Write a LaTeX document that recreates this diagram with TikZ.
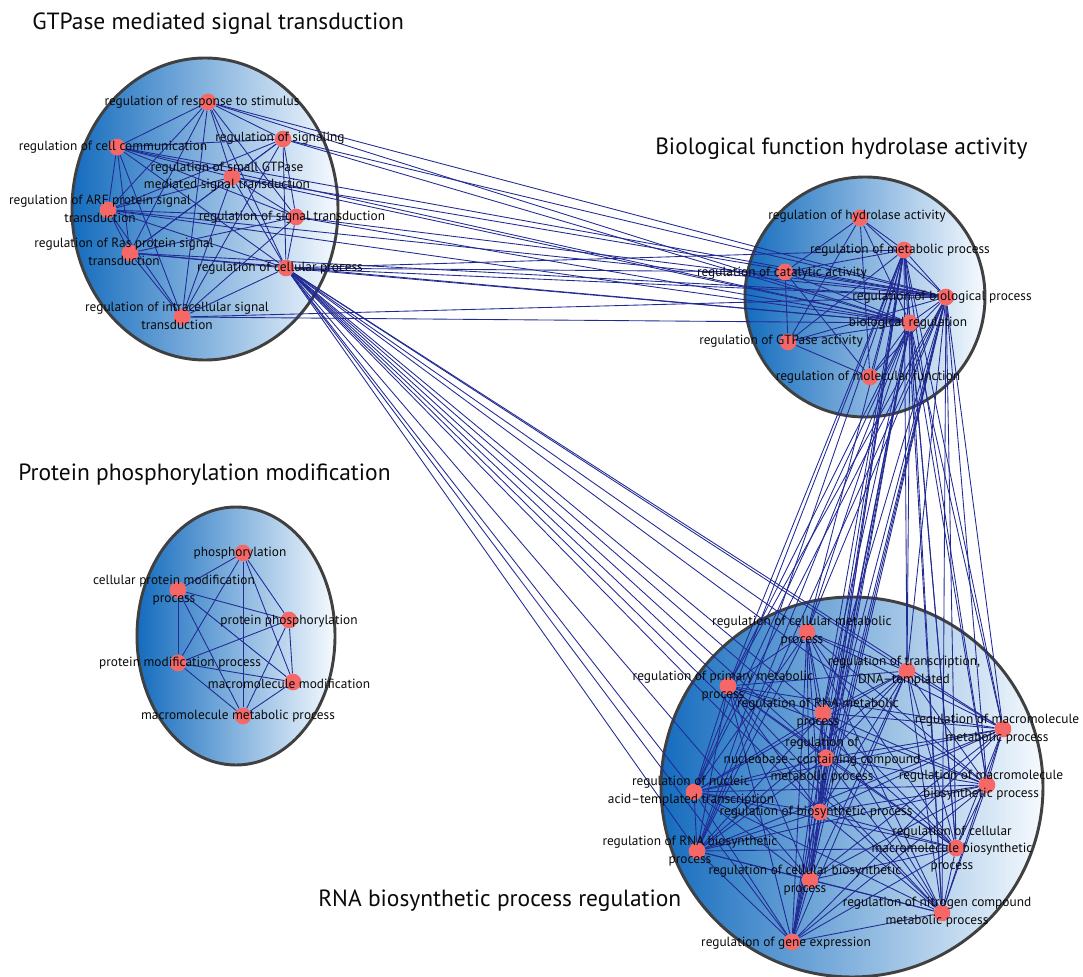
\documentclass[tikz,border=0pt]{standalone}
\usepackage{fontspec}
\setmainfont{PT Sans}
\pgfdeclarelayer{bg}
\pgfdeclarelayer{edges}
\pgfsetlayers{bg,edges,main}
\definecolor{edgeblue}{RGB}{34,42,148}
\definecolor{dotred}{RGB}{246,104,104}
\definecolor{clleft}{RGB}{20,108,190}
\definecolor{clright}{RGB}{246,250,254}
\definecolor{rimgray}{RGB}{64,64,64}
\definecolor{txt}{RGB}{10,10,10}
\begin{document}
\begin{tikzpicture}[x=0.75pt,y=-0.75pt,
  cluster/.style={left color=clleft,right color=clright,draw=rimgray,line width=2.2pt},
  edge/.style={draw=edgeblue,line width=0.65pt},
  dot/.style={circle,fill=dotred,inner sep=0pt,minimum size=12.5pt},
  lbl/.style={font=\fontsize{10}{13}\selectfont,align=center,inner sep=0pt,text=txt},
  ttl/.style={font=\fontsize{17.6}{19}\selectfont,anchor=west,inner sep=0pt,text=txt}]
\useasboundingbox (0,0) rectangle (1083,977);
\def\Glist{gA,gB,gC,gD,gE,gF,gG,gH,gI}
\def\Hlist{hA,hB,hC,hD,hE,hF,hG}
\def\Plist{pA,pB,pC,pD,pE,pF}
\def\Rlist{r1,r2,r3,r4,r5,r6,r7,r8,r9,r10,r11,r12,r13,r14}
% clusters
\begin{pgfonlayer}{bg}
\path[cluster] (205,209) ellipse [x radius=133, y radius=151];
\path[cluster] (865,297) ellipse [x radius=120, y radius=120];
\path[cluster] (236,636) ellipse [x radius=99, y radius=129];
\path[cluster] (852,787) ellipse [x radius=191, y radius=190];
\end{pgfonlayer}
% titles
\node[ttl] (t1) at (32,24) {GTPase mediated signal transduction};
\node[ttl] (t2) at (655,149) {Biological function hydrolase activity};
\node[ttl] (t3) at (18,475) {Protein phosphorylation modification};
\node[ttl] (t4) at (318,901) {RNA biosynthetic process regulation};
% GTPase cluster
\node[dot] (gA) at (208,102) {};
\node[dot] (gB) at (283,139) {};
\node[dot] (gC) at (117,147) {};
\node[dot] (gD) at (232,177) {};
\node[dot] (gE) at (108,210) {};
\node[dot] (gF) at (296,217) {};
\node[dot] (gG) at (130,253) {};
\node[dot] (gH) at (286,268) {};
\node[dot] (gI) at (182,317) {};
% hydrolase cluster
\node[dot] (hA) at (860,218) {};
\node[dot] (hB) at (904,250) {};
\node[dot] (hC) at (785,272) {};
\node[dot] (hD) at (946,297) {};
\node[dot] (hE) at (910,323) {};
\node[dot] (hF) at (788,342) {};
\node[dot] (hG) at (870,377) {};
% protein cluster
\node[dot] (pA) at (243,553) {};
\node[dot] (pB) at (178,590) {};
\node[dot] (pC) at (289,620) {};
\node[dot] (pD) at (178,663) {};
\node[dot] (pE) at (293,682) {};
\node[dot] (pF) at (243,716) {};
% RNA cluster
\node[dot] (r1) at (807,632) {};
\node[dot] (r2) at (907,671) {};
\node[dot] (r3) at (728,686) {};
\node[dot] (r4) at (823,713) {};
\node[dot] (r5) at (1003,729) {};
\node[dot] (r6) at (826,758) {};
\node[dot] (r7) at (694,792) {};
\node[dot] (r8) at (987,785) {};
\node[dot] (r9) at (820,812) {};
\node[dot] (r10) at (956,848) {};
\node[dot] (r11) at (697,851) {};
\node[dot] (r12) at (810,880) {};
\node[dot] (r13) at (942,913) {};
\node[dot] (r14) at (792,942) {};
% edges
\begin{pgfonlayer}{edges}
\foreach \a [count=\i] in \Glist {\foreach \b [count=\j] in \Glist {\ifnum\j>\i\relax\draw[edge] (\a) -- (\b);\fi}}
\foreach \a [count=\i] in \Hlist {\foreach \b [count=\j] in \Hlist {\ifnum\j>\i\relax\draw[edge] (\a) -- (\b);\fi}}
\foreach \a [count=\i] in \Plist {\foreach \b [count=\j] in \Plist {\ifnum\j>\i\relax\draw[edge] (\a) -- (\b);\fi}}
\foreach \a [count=\i] in \Rlist {\foreach \b [count=\j] in \Rlist {\ifnum\j>\i\relax\draw[edge] (\a) -- (\b);\fi}}
\foreach \a in \Glist {\draw[edge] (\a) -- (hD); \draw[edge] (\a) -- (hE);}
\draw[edge] (gH) -- (hB);
\draw[edge] (gH) -- (hC);
\foreach \a in \Rlist {\draw[edge] (gH) -- (\a); \draw[edge] (hB) -- (\a); \draw[edge] (hD) -- (\a); \draw[edge] (hE) -- (\a);}
\end{pgfonlayer}
% labels
\node[lbl] (gAl) at (202,102) {regulation of response to stimulus};
\node[lbl] (gBl) at (280,138) {regulation of signaling};
\node[lbl] (gCl) at (113,147) {regulation of cell communication};
\node[lbl] (gDl) at (227,177) {regulation of small GTPase\\mediated signal transduction};
\node[lbl] (gEl) at (100,209) {regulation of ARF protein signal\\transduction};
\node[lbl] (gFl) at (292,217) {regulation of signal transduction};
\node[lbl] (gGl) at (124,252) {regulation of Ras protein signal\\transduction};
\node[lbl] (gHl) at (280,268) {regulation of cellular process};
\node[lbl] (gIl) at (177,316) {regulation of intracellular signal\\transduction};
\node[lbl] (hAl) at (857,216) {regulation of hydrolase activity};
\node[lbl] (hBl) at (900,250) {regulation of metabolic process};
\node[lbl] (hCl) at (782,273) {regulation of catalytic activity};
\node[lbl] (hDl) at (942,297) {regulation of biological process};
\node[lbl] (hEl) at (908,323) {biological regulation};
\node[lbl] (hFl) at (781,341) {regulation of GTPase activity};
\node[lbl] (hGl) at (868,377) {regulation of molecular function};
\node[lbl] (pAl) at (240,553) {phosphorylation};
\node[lbl] (pBl) at (174,590) {cellular protein modification\\process};
\node[lbl] (pCl) at (289,621) {protein phosphorylation};
\node[lbl] (pDl) at (180,663) {protein modification process};
\node[lbl] (pEl) at (289,684) {macromolecule modification};
\node[lbl] (pFl) at (238,716) {macromolecule metabolic process};
\node[lbl] (r1l) at (802,631) {regulation of cellular metabolic\\process};
\node[lbl] (r2l) at (904,671) {regulation of transcription,\\DNA–templated};
\node[lbl] (r3l) at (723,686) {regulation of primary metabolic\\process};
\node[lbl] (r4l) at (818,713) {regulation of RNA metabolic\\process};
\node[lbl] (r5l) at (997,729) {regulation of macromolecule\\metabolic process};
\node[lbl] (r6l) at (822,760) {regulation of\\nucleobase–containing compound\\metabolic process};
\node[lbl] (r7l) at (691,791) {regulation of nucleic\\acid–templated transcription};
\node[lbl] (r8l) at (981,785) {regulation of macromolecule\\biosynthetic process};
\node[lbl] (r9l) at (816,812) {regulation of biosynthetic process};
\node[lbl] (r10l) at (952,849) {regulation of cellular\\macromolecule biosynthetic\\process};
\node[lbl] (r11l) at (690,851) {regulation of RNA biosynthetic\\process};
\node[lbl] (r12l) at (805,880) {regulation of cellular biosynthetic\\process};
\node[lbl] (r13l) at (937,912) {regulation of nitrogen compound\\metabolic process};
\node[lbl] (r14l) at (786,943) {regulation of gene expression};
\end{tikzpicture}
\end{document}
